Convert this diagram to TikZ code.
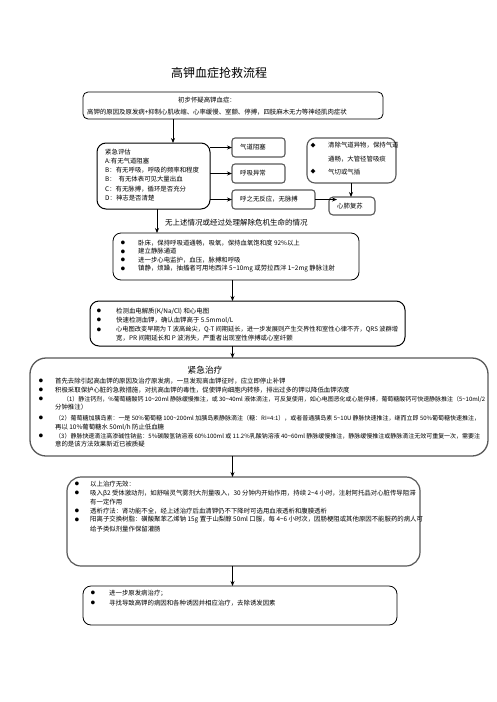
\documentclass[tikz,border=0pt]{standalone}
\usepackage{fontspec}
\setmainfont{Noto Sans CJK SC}
\usetikzlibrary{arrows.meta}
\newcommand\tld{\textasciitilde}
\newcommand\Tx[4]{\node[txt] (#1) at (#2,#3) {#4};}
\newcommand\Tf[5]{\node[txt] (#1) at (#2,#3) {\resizebox{#4pt}{!}{#5}};}
\newcommand\Bu[3]{\node[bul] (#1) at (#2,#3) {●};}
\newcommand\Bx[6]{\node[#6, anchor=north west, minimum width={(#4-#2)*1pt}, minimum height={(#5-#3)*1pt}] (#1) at (#2,#3) {};}
\begin{document}
\begin{tikzpicture}[x=1pt,y=-1pt,
  box/.style={draw, line width=0.8pt, inner sep=0, outer sep=0},
  gbox/.style={draw=black!65, line width=1.1pt, inner sep=0, outer sep=0},
  txt/.style={anchor=west, inner sep=0, font=\fontsize{6.4}{7}\selectfont},
  bul/.style={anchor=center, inner sep=0, font=\fontsize{4.2}{5}\selectfont},
  arr/.style={line width=0.8pt, -{Stealth[length=5pt,width=4pt]}}
]
\useasboundingbox[fill=white] (0,0) rectangle (496,702);
\coordinate (ax1) at (173,0);
\coordinate (ax) at (232.5,0);

% title
\node[inner sep=0, font=\fontsize{12}{14}\selectfont] (title) at (219,73) {高钾血症抢救流程};

% box 1
\Bx{b1}{83}{92}{383}{119}{box, rounded corners=5pt}
\Tx{t11}{178}{100.5}{初步怀疑高钾血症：}
\Tx{t12}{87}{112}{高钾的原因及原发病+抑制心肌收缩、心率缓慢、室颤、停搏，四肢麻木无力等神经肌肉症状}

% box 2
\Bx{b2}{97}{143}{210}{209}{box, line width=1pt, rounded corners=9pt}
\Tx{t21}{105}{152}{紧急评估}
\Tx{t22}{105}{161.5}{A:有无气道阻塞}
\Tx{t23}{105}{170.5}{B：有无呼吸，呼吸的频率和程度}
\Tx{t24}{105}{179.5}{B：\ \ 有无体表可见大量出血}
\Tx{t25}{105}{189}{C：有无脉搏，循环是否充分}
\Tx{t26}{105}{198}{D：神志是否清楚}

% small boxes
\Bx{r1}{232}{138}{285}{157}{gbox, rounded corners=3pt}
\Tx{tr1}{240}{147.5}{气道阻塞}
\Bx{r2}{232}{164}{285}{183}{gbox, rounded corners=3pt}
\Tx{tr2}{240}{173.5}{呼吸异常}
\Bx{r3}{232}{190}{315}{209}{gbox, rounded corners=3pt}
\Tx{tr3}{240}{199.5}{呼之无反应，无脉搏}

% right box
\Bx{rb}{307}{138}{396}{183}{gbox, rounded corners=8pt}
\node[bul, font=\fontsize{5}{6}\selectfont] (rbu1) at (313,145.5) {◆};
\node[bul, font=\fontsize{5}{6}\selectfont] (rbu2) at (313,172) {◆};
\Tx{trb1}{328}{145.5}{清除气道异物，保持气道}
\Tx{trb2}{328}{159}{通畅，大管径管吸痰}
\Tx{trb3}{328}{172}{气切或气插}

% cpr box
\Bx{cpr}{329}{197}{375}{215}{gbox, rounded corners=4pt}
\Tx{tcpr}{337}{206.5}{心肺复苏}

% label
\node[inner sep=0, anchor=west, font=\fontsize{7.5}{9}\selectfont] (lab) at (165,223) {无上述情况或经过处理解除危机生命的情况};

% box 3
\Bx{b3}{113}{233}{359}{280}{box, rounded corners=8pt}
\Bu{b31}{123}{243}\Tx{t31}{138}{243}{卧床，保持呼吸道通畅，吸氧，保持血氧饱和度 92\%以上}
\Bu{b32}{123}{251.5}\Tx{t32}{138}{251.5}{建立静脉通道}
\Bu{b33}{123}{260}\Tx{t33}{138}{260}{进一步心电监护，血压，脉搏和呼吸}
\Bu{b34}{123}{268.5}\Tx{t34}{138}{268.5}{镇静，烦躁，抽搐者可用地西泮 5\tld10mg 或劳拉西泮 1\tld2mg 静脉注射}

% box 4
\Bx{b4}{90}{301}{405}{346}{box, line width=1pt, rounded corners=9pt}
\Bu{b41}{99}{311}\Tx{t41}{116}{311}{检测血电解质(K/Na/Cl) 和心电图}
\Bu{b42}{99}{320}\Tx{t42}{116}{320}{快速检测血钾，确认血钾高于 5.5mmol/L}
\Bu{b43}{99}{329.5}\Tf{t43}{116}{329.5}{282}{心电图改变早期为 T 波高耸尖，Q-T 间期延长，进一步发展则产生交界性和室性心律不齐，QRS 波群增}
\Tx{t44}{116}{338}{宽，PR 间期延长和 P 波消失，严重者出现室性停搏或心室纤颤}

% box 5
\Bx{b5}{30}{358}{488}{456}{gbox, line width=1.3pt, rounded corners=16pt}
\node[inner sep=0, font=\fontsize{8.7}{10}\selectfont] (t5t) at (205,370) {紧急治疗};
\Bu{b51}{41}{381}\Tx{t51}{55}{381}{首先去除引起高血钾的原因及治疗原发病，一旦发现高血钾征时，应立即停止补钾}
\Bu{b52}{41}{390}\Tx{t52}{55}{390}{积极采取保护心脏的急救措施，对抗高血钾的毒性，促使钾向细胞内转移，排出过多的钾以降低血钾浓度}
\Bu{b53}{41}{399}\Tf{t53}{63}{399}{422}{（1）静注钙剂，\%葡萄糖酸钙 10\tld20ml 静脉缓慢推注，或 30\tld40ml 液体滴注，可反复使用，如心电图恶化或心脏停搏，葡萄糖酸钙可快速静脉推注（5\tld10ml/2}
\Tx{t54}{55}{407}{分钟推注）}
\Bu{b55}{41}{418}\Tf{t55}{55}{418}{425}{（2）葡萄糖加胰岛素：一是 50\%葡萄糖 100\tld200ml 加胰岛素静脉滴注（糖：RI=4:1），或者普通胰岛素 5\tld10U 静脉快速推注，继而立即 50\%葡萄糖快速推注，}
\Tx{t56}{55}{427}{再以 10\%葡萄糖水 50ml/h 防止低血糖}
\Bu{b57}{41}{436}\Tf{t57}{55}{436}{425}{（3）静脉快速滴注高渗碱性钠盐：5\%碳酸氢钠溶液 60\%100ml 或 11.2\%乳酸钠溶液 40\tld60ml 静脉缓慢推注，静脉缓慢推注或静脉滴注无效可重复一次，需要注}
\Tx{t58}{55}{444}{意的是该方法效果新近已被质疑}

% box 6
\Bx{b6}{67}{477}{420}{566}{gbox, line width=1.2pt, rounded corners=14pt}
\Bu{b61}{77}{484}\Tx{t61}{90}{484}{以上治疗无效：}
\Bu{b62}{77}{493}\Tx{t62}{90}{493}{吸入β2 受体激动剂，如舒喘灵气雾剂大剂量吸入，30 分钟内开始作用，持续 2\tld4 小时，注射阿托品对心脏传导阻滞}
\Tx{t63}{90}{502}{有一定作用}
\Bu{b64}{77}{511}\Tx{t64}{90}{511}{透析疗法：肾功能不全，经上述治疗后血清钾仍不下降时可选用血液透析和腹膜透析}
\Bu{b65}{77}{520}\Tx{t65}{90}{520}{阳离子交换树脂：磺酸聚苯乙烯钠 15g 置于山梨醇 50ml 口服，每 4\tld6 小时次，因肠梗阻或其他原因不能服药的病人可}
\Tx{t66}{90}{529}{给予类似剂量作保留灌肠}

% box 7
\Bx{b7}{83}{586}{397}{625}{box, rounded corners=8pt}
\Bu{b71}{93}{593}\Tx{t71}{109}{593}{进一步原发病治疗；}
\Bu{b72}{93}{603}\Tx{t72}{109}{603}{寻找导致高钾的病因和各种诱因并相应治疗，去除诱发因素}

% connectors
\draw[arr] (b1.south -| ax1) -- (b2.north -| ax1);
\draw[arr] (b2.east |- r1.west) -- (r1.west);
\draw[arr] (b2.east |- r2.west) -- (r2.west);
\draw[arr] (b2.east |- r3.west) -- (r3.west);
\draw[arr] (r3.east) -- ([xshift=8pt]r3.east -| cpr.west);
\draw[arr] ([xshift=-0.5pt]rb.south) -- ([xshift=-0.5pt]rb.south |- cpr.north);
\draw[arr] ([xshift=3.5pt]b2.south) -- ([xshift=3.5pt]b2.south |- b3.north);
\draw[arr] (b3.south -| ax) -- (b4.north -| ax);
\draw[arr] (b4.south -| ax) -- (b5.north -| ax);
\draw[arr] (b5.south -| ax) -- (b6.north -| ax);
\draw[arr] (b6.south -| ax) -- (b7.north -| ax);
\end{tikzpicture}
\end{document}
